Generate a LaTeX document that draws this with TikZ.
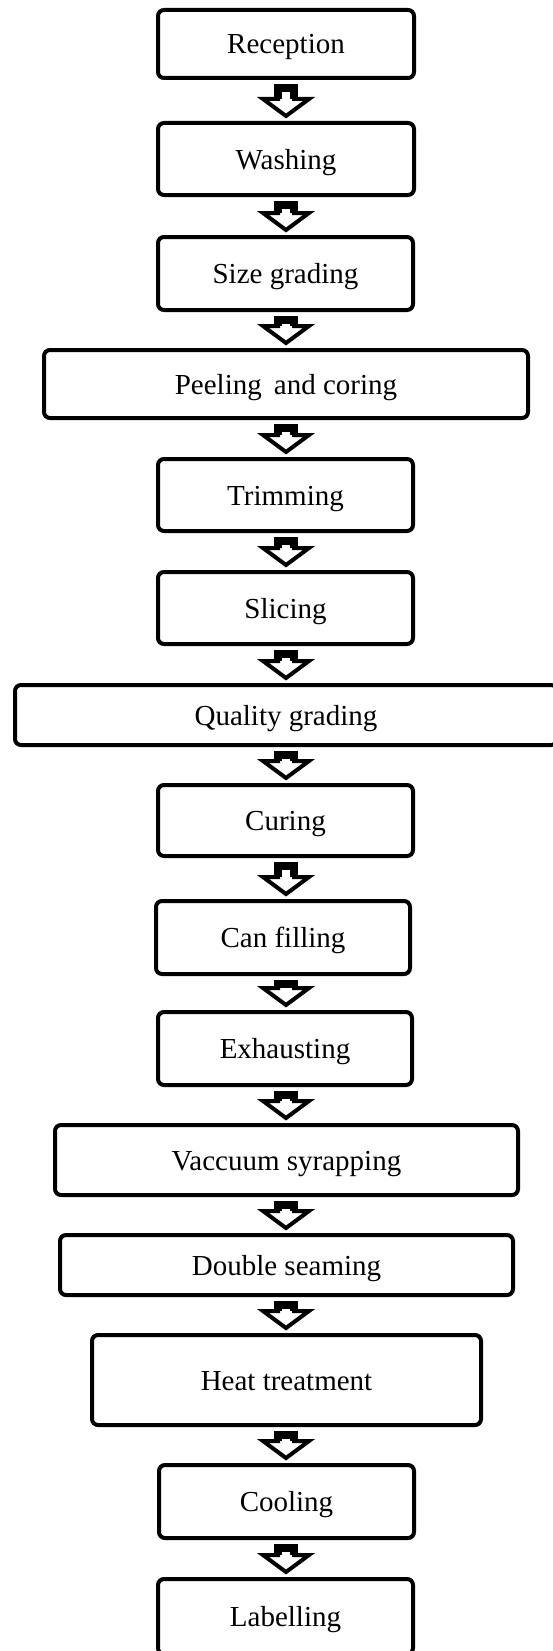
\documentclass[tikz,border=0pt]{standalone}
\usepackage{fontspec}
\setmainfont{Liberation Serif}
\usetikzlibrary{calc}

\tikzset{
  stage/.style={draw, line width=4pt, rounded corners=6pt, fill=white,
    inner sep=0pt, align=center, text height=20pt, text depth=0pt,
    font=\fontsize{29}{34}\selectfont},
  blockarrow/.style={draw, line width=4pt, fill=white, line join=miter},
  arrowshaft/.style={draw, line width=8pt, line join=miter, line cap=butt}
}

% hollow block arrow from the bottom of #1 to the top of #2
\newcommand\flowarrow[2]{%
  \draw[blockarrow]
    ($(#1.south -| axis)+(-8,8)$) -- ($(#2.north -| axis)+(-8,-22)$)
    -- ($(#2.north -| axis)+(-23,-22)$) -- ($(#2.north -| axis)+(0,-5)$)
    -- ($(#2.north -| axis)+(23,-22)$) -- ($(#2.north -| axis)+(8,-22)$)
    -- ($(#1.south -| axis)+(8,8)$) -- cycle;
  \draw[arrowshaft]
    ($(#2.north -| axis)+(-8,-22)$) -- ($(#1.south -| axis)+(-8,8)$)
    -- ($(#1.south -| axis)+(8,8)$) -- ($(#2.north -| axis)+(8,-22)$);}

\begin{document}
\begin{tikzpicture}[x=1pt, y=-1pt]
\useasboundingbox (0,0) rectangle (553,1651);
\coordinate (axis) at (286,0);

\node[stage, minimum width=256pt, minimum height=68pt] (s1)  at (286,44)     {Reception};
\node[stage, minimum width=256pt, minimum height=72pt] (s2)  at (286,159)    {Washing};
\node[stage, minimum width=255pt, minimum height=73pt] (s3)  at (285.5,273.5) {Size grading};
\node[stage, minimum width=484pt, minimum height=68pt] (s4)  at (286,384)    {Peeling\, and coring};
\node[stage, minimum width=255pt, minimum height=72pt] (s5)  at (285.5,495)  {Trimming};
\node[stage, minimum width=255pt, minimum height=72pt] (s6)  at (285.5,608)  {Slicing};
\node[stage, minimum width=542pt, minimum height=60pt] (s7)  at (286,715)    {Quality grading};
\node[stage, minimum width=255pt, minimum height=71pt] (s8)  at (285.5,820.5) {Curing};
\node[stage, minimum width=254pt, minimum height=73pt] (s9)  at (283,937.5)  {Can filling};
\node[stage, minimum width=254pt, minimum height=73pt] (s10) at (285,1048.5) {Exhausting};
\node[stage, minimum width=463pt, minimum height=70pt] (s11) at (286.5,1160) {Vaccuum syrapping};
\node[stage, minimum width=453pt, minimum height=60pt] (s12) at (286.5,1265) {Double seaming};
\node[stage, minimum width=389pt, minimum height=90pt] (s13) at (286.5,1380) {Heat treatment};
\node[stage, minimum width=255pt, minimum height=73pt] (s14) at (286.5,1501.5) {Cooling};
\node[stage, minimum width=255pt, minimum height=75pt] (s15) at (285.5,1616.5) {Labelling};

\flowarrow{s1}{s2}
\flowarrow{s2}{s3}
\flowarrow{s3}{s4}
\flowarrow{s4}{s5}
\flowarrow{s5}{s6}
\flowarrow{s6}{s7}
\flowarrow{s7}{s8}
\flowarrow{s8}{s9}
\flowarrow{s9}{s10}
\flowarrow{s10}{s11}
\flowarrow{s11}{s12}
\flowarrow{s12}{s13}
\flowarrow{s13}{s14}
\flowarrow{s14}{s15}
\end{tikzpicture}
\end{document}
